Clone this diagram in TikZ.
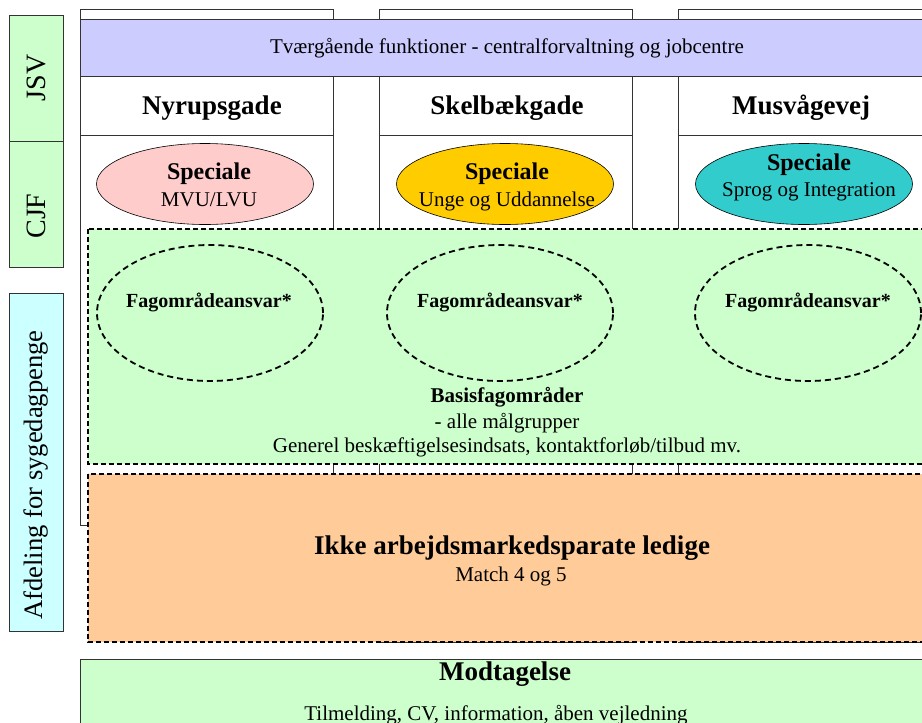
\documentclass[tikz,border=0pt]{standalone}
\usepackage{fontspec}
\setmainfont{Liberation Serif}
\usetikzlibrary{shapes.geometric}
\definecolor{lgreen}{HTML}{CCFFCC}
\definecolor{lcyan}{HTML}{CCFFFF}
\definecolor{lviolet}{HTML}{CCCCFF}
\definecolor{lpink}{HTML}{FFCCCC}
\definecolor{gold}{HTML}{FFCC00}
\definecolor{tealc}{HTML}{33CCCC}
\definecolor{peach}{HTML}{FFCC99}
\definecolor{edge}{HTML}{333333}
\newcommand{\fs}[1]{\fontsize{#1}{#1}\selectfont}
\begin{document}
\begin{tikzpicture}[x=1pt,y=-1pt,
  frame/.style={draw=edge,line width=0.9pt},
  sidetext/.style={rotate=90,font=\fs{28}},
  colbox/.style={frame,fill=white},
  header/.style={font=\bfseries\fs{27}},
  special/.style={ellipse,draw=black,line width=0.6pt,minimum width=217pt,minimum height=81pt,inner sep=0pt},
  spectitle/.style={font=\bfseries\fs{24}},
  dashbox/.style={draw=black,line width=1.3pt,dash pattern=on 5pt off 3pt},
  respons/.style={ellipse,draw=black,line width=1.8pt,dash pattern=on 6pt off 4pt,minimum width=226pt,minimum height=136pt,inner sep=0pt},
  resptitle/.style={font=\bfseries\fs{20}},
  body/.style={font=\fs{21}}
]
\useasboundingbox (0,0) rectangle (922,723);
\clip (0,0) rectangle (922,723);

% columns for the three addresses
\draw[colbox] (80,9) rectangle (333,525);
\draw[colbox] (379,9) rectangle (632,642);
\draw[colbox] (678,9) rectangle (940,642);
\draw[frame] (80,135) -- (333,135);
\draw[frame] (379,135) -- (632,135);
\draw[frame] (678,135) -- (940,135);

% cross-cutting band
\node[frame,fill=lviolet,anchor=north west,minimum width=860pt,minimum height=57pt] (band) at (80,19) {};
\node[body] (bandtxt) at (507,48) {Tværgående funktioner - centralforvaltning og jobcentre};

\node[header] (nyrup) at (212,108) {Nyrupsgade};
\node[header] (skelb) at (507,108) {Skelbækgade};
\node[header] (musv) at (801,108) {Musvågevej};

% specialised units
\node[special,fill=lpink] (sp1) at (205,184) {};
\node[spectitle] at (209,174) {Speciale};
\node[body] at (209,200) {MVU/LVU};
\node[special,fill=gold] (sp2) at (505,184) {};
\node[spectitle] at (507,174) {Speciale};
\node[body] at (507,201) {Unge og Uddannelse};
\node[special,fill=tealc] (sp3) at (804,184) {};
\node[spectitle] at (809,165) {Speciale};
\node[body] at (809,192) {Sprog og Integration};

% basic areas
\draw[dashbox,fill=lgreen] (88,229) rectangle (940,464);
\node[respons] (fa1) at (210,313) {};
\node[respons] (fa2) at (500,313) {};
\node[respons] (fa3) at (808,313) {};
\node[resptitle] at (209,302) {Fagområdeansvar*};
\node[resptitle] at (500,302) {Fagområdeansvar*};
\node[resptitle] at (808,302) {Fagområdeansvar*};
\node[font=\bfseries\fs{21}] (basis) at (507,397) {Basisfagområder};
\node[body] at (507,423) {- alle målgrupper};
\node[body] at (507,447) {Generel beskæftigelsesindsats, kontaktforløb/tilbud mv.};

% not job-ready
\draw[dashbox,fill=peach] (88,474) rectangle (940,642);
\node[font=\bfseries\fs{27}] (ikke) at (512,548) {Ikke arbejdsmarkedsparate ledige};
\node[body] at (511,576) {Match 4 og 5};

% reception
\draw[frame,fill=lgreen] (80,659) rectangle (940,740);
\node[font=\bfseries\fs{27}] (modt) at (505,674) {Modtagelse};
\node[body] at (496,715) {Tilmelding, CV, information, åben vejledning};

% side labels
\draw[frame,fill=lgreen] (9,15) rectangle (63,141);
\draw[frame,fill=lgreen] (9,141) rectangle (63,267);
\draw[frame,fill=lcyan] (9,293) rectangle (63,631);
\node[sidetext] (jsv) at (36,78) {JSV};
\node[sidetext] (cjf) at (36,216) {CJF};
\node[sidetext,font=\fs{26.6}] (afd) at (36,475) {Afdeling for sygedagpenge};
\end{tikzpicture}
\end{document}
